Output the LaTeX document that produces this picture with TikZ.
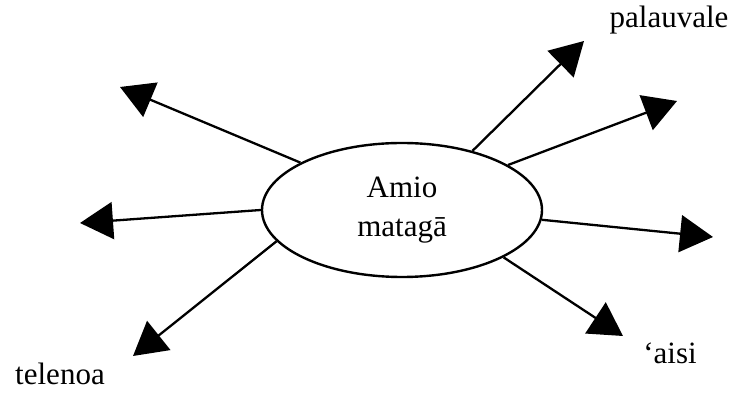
\documentclass[tikz,border=0pt]{standalone}
\usepackage{fontspec}
\setmainfont{Liberation Serif}
\usetikzlibrary{arrows.meta,shapes.geometric}
\begin{document}
\begin{tikzpicture}[x=1pt,y=1pt,
  hub/.style={draw,ellipse,line width=2.4pt,minimum width=280pt,minimum height=134pt,inner sep=0pt,align=center,font=\fontsize{31}{39}\selectfont},
  lbl/.style={anchor=base,inner sep=0pt,font=\fontsize{31}{36}\selectfont},
  spoke/.style={line width=2.3pt,-{Triangle[length=33pt,width=37pt]}}]
\useasboundingbox (0,0) rectangle (741,393);
\node[hub] (c) at (402,183) {Amio\\matagā};
\coordinate (t1) at (120,306);
\coordinate (t2) at (80,170);
\coordinate (t3) at (133,37);
\coordinate (t4) at (584,352);
\coordinate (t5) at (677,292);
\coordinate (t6) at (713,156);
\coordinate (t7) at (623,57);
\draw[spoke] (c.155.7) -- (t1);
\draw[spoke] (c.180) -- (t2);
\draw[spoke] (c.194.9) -- (t3);
\draw[spoke] (c.40.2) -- (t4);
\draw[spoke] (c.23) -- (t5);
\draw[spoke] (c.356) -- (t6);
\draw[spoke] (c.335.9) -- (t7);
\node[lbl] (l1) at (669,365) {palauvale};
\node[lbl] (l2) at (60,8) {telenoa};
\node[lbl] (l3) at (670,29) {‘aisi};
\end{tikzpicture}
\end{document}
